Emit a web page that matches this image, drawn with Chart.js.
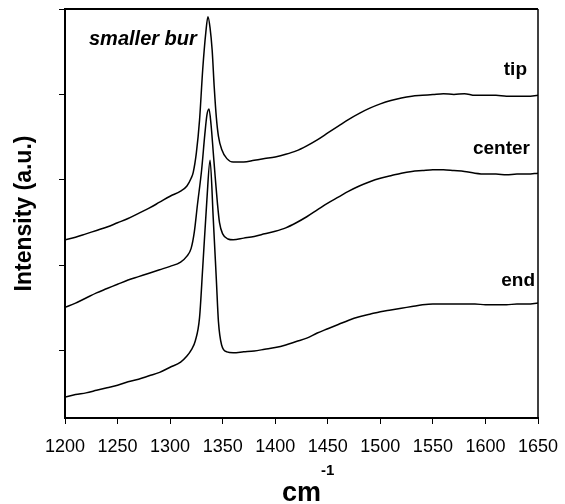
<!DOCTYPE html>
<html>
<head>
<meta charset="utf-8">
<script src="https://cdn.jsdelivr.net/npm/chart.js"></script>
<style>
  html, body { margin: 0; padding: 0; background: #fff; }
  #wrap { width: 565px; height: 504px; }
</style>
</head>
<body>
<div id="wrap"><canvas id="raman"></canvas></div>
<script>
// x axis ticks (cm-1) and y tick positions (a.u., no labels)
var xTicks = [1200, 1250, 1300, 1350, 1400, 1450, 1500, 1550, 1600, 1650];
var yTicks = [1, 2, 3, 4, 5];

// tip spectrum
var tipX = [1200,1210,1220,1230,1240,1250,1260,1270,1280,1290,1300,1310,1316,1320,1322,1325,1328,1331,1334,1336,1338,1340,1342,1344,1346,1349,1354,1360,1370,1380,1390,1400,1410,1420,1430,1440,1450,1460,1470,1480,1490,1500,1510,1520,1530,1540,1550,1560,1570,1580,1590,1600,1610,1620,1630,1640,1650];
var tipY = [2.30,2.33,2.37,2.41,2.45,2.50,2.55,2.61,2.67,2.74,2.81,2.87,2.93,3.02,3.09,3.32,3.70,4.29,4.73,4.91,4.78,4.52,4.08,3.73,3.51,3.36,3.25,3.21,3.21,3.23,3.25,3.27,3.30,3.34,3.40,3.47,3.55,3.63,3.71,3.78,3.84,3.89,3.93,3.96,3.98,3.99,4.00,4.01,4.00,4.01,3.99,3.99,3.99,3.98,3.98,3.98,3.99];

// center spectrum
var centerX = [1200,1210,1220,1230,1240,1250,1260,1270,1280,1290,1300,1310,1316,1320,1323,1326,1330,1333,1335,1337,1339,1341,1343,1345,1347,1350,1355,1360,1370,1380,1390,1400,1410,1420,1430,1440,1450,1460,1470,1480,1490,1500,1510,1520,1530,1540,1550,1560,1570,1580,1590,1600,1610,1620,1630,1640,1650];
var centerY = [1.51,1.56,1.62,1.68,1.73,1.78,1.83,1.87,1.91,1.95,1.99,2.04,2.11,2.20,2.39,2.71,3.12,3.53,3.76,3.83,3.64,3.33,3.02,2.73,2.50,2.37,2.31,2.30,2.32,2.34,2.37,2.40,2.44,2.50,2.57,2.65,2.73,2.80,2.87,2.93,2.98,3.02,3.05,3.08,3.10,3.11,3.12,3.12,3.11,3.10,3.08,3.07,3.07,3.06,3.07,3.07,3.08];

// end spectrum
var endX = [1200,1210,1220,1230,1240,1250,1260,1270,1280,1290,1300,1310,1316,1320,1324,1328,1331,1335,1338,1341,1344,1346,1349,1354,1360,1370,1380,1390,1400,1410,1420,1430,1440,1450,1460,1470,1480,1490,1500,1510,1520,1530,1540,1550,1560,1570,1580,1590,1600,1610,1620,1630,1640,1650];
var endY = [0.46,0.49,0.51,0.54,0.57,0.60,0.64,0.67,0.71,0.75,0.81,0.87,0.94,1.01,1.12,1.39,1.97,2.77,3.23,2.56,1.83,1.34,1.07,0.99,0.98,0.99,1.00,1.02,1.04,1.07,1.11,1.15,1.21,1.26,1.31,1.36,1.40,1.43,1.46,1.48,1.50,1.52,1.54,1.55,1.55,1.55,1.55,1.55,1.54,1.54,1.54,1.55,1.55,1.56];

var seriesNames = ['tip', 'center', 'end'];

function pairs(xs, ys) {
  return xs.map(function (x, i) { return { x: x, y: ys[i] }; });
}

var FONT = '"Liberation Sans", Arial, Helvetica, sans-serif';

function lineSet(name, xs, ys) {
  return {
    label: name,
    data: pairs(xs, ys),
    borderColor: '#000',
    borderWidth: 1.5,
    pointRadius: 0,
    fill: false,
    cubicInterpolationMode: 'monotone'
  };
}

// frame, curve names and the cm-1 axis title
var extras = {
  id: 'extras',
  afterDraw: function (chart) {
    var ctx = chart.ctx, a = chart.chartArea;
    ctx.save();
    ctx.strokeStyle = '#000';
    ctx.lineWidth = 2;
    ctx.beginPath();
    ctx.moveTo(a.left - 1, a.top);
    ctx.lineTo(a.right, a.top);
    ctx.stroke();
    ctx.lineWidth = 1.5;
    ctx.beginPath();
    ctx.moveTo(a.right, a.top);
    ctx.lineTo(a.right, a.bottom);
    ctx.stroke();

    ctx.fillStyle = '#000';
    ctx.textBaseline = 'alphabetic';
    ctx.font = 'italic bold 20px ' + FONT;
    ctx.textAlign = 'left';
    ctx.fillText('smaller bur', 89, 45);

    ctx.font = 'bold 19px ' + FONT;
    ctx.textAlign = 'right';
    ctx.fillText(seriesNames[0], 527, 75);
    ctx.fillText(seriesNames[1], 530, 154);
    ctx.fillText(seriesNames[2], 535, 286);

    // x axis title with superscript
    var cx = (a.left + a.right) / 2;
    ctx.font = 'bold 27px ' + FONT;
    var w = ctx.measureText('cm').width;
    ctx.textAlign = 'left';
    ctx.fillText('cm', cx - w / 2, 501);
    ctx.font = 'bold 15px ' + FONT;
    ctx.fillText('-1', cx + w / 2, 475);
    ctx.restore();
  }
};

new Chart(document.getElementById('raman'), {
  type: 'line',
  data: {
    datasets: [
      lineSet(seriesNames[0], tipX, tipY),
      lineSet(seriesNames[1], centerX, centerY),
      lineSet(seriesNames[2], endX, endY)
    ]
  },
  options: {
    responsive: true,
    maintainAspectRatio: false,
    animation: false,
    layout: { padding: { top: 9, right: 27, left: 0, bottom: 0 } },
    plugins: {
      legend: { display: false },
      tooltip: { enabled: false }
    },
    scales: {
      x: {
        type: 'linear',
        min: 1200,
        max: 1650,
        afterBuildTicks: function (s) { s.ticks = xTicks.map(function (v) { return { value: v }; }); },
        afterFit: function (s) { s.height = 86; s.paddingLeft = 0; s.paddingRight = 0; },
        ticks: {
          color: '#000',
          padding: 12,
          maxRotation: 0,
          font: { family: FONT, size: 18 },
          callback: function (v) { return String(v); }
        },
        grid: { drawOnChartArea: false, drawTicks: true, tickLength: 6, color: '#000', lineWidth: 1 },
        border: { display: true, color: '#000', width: 2 }
      },
      y: {
        type: 'linear',
        min: 0.216,
        max: 5,
        afterBuildTicks: function (s) { s.ticks = yTicks.map(function (v) { return { value: v }; }); },
        afterFit: function (s) { s.width = 65; s.paddingTop = 0; s.paddingBottom = 0; },
        ticks: { display: false },
        grid: { drawOnChartArea: false, drawTicks: true, tickLength: 6, color: '#000', lineWidth: 1 },
        border: { display: true, color: '#000', width: 2 },
        title: {
          display: true,
          text: 'Intensity (a.u.)',
          color: '#000',
          font: { family: FONT, size: 23, weight: 'bold' },
          padding: { top: 11, bottom: 0 }
        }
      }
    }
  },
  plugins: [extras]
});
</script>
</body>
</html>
